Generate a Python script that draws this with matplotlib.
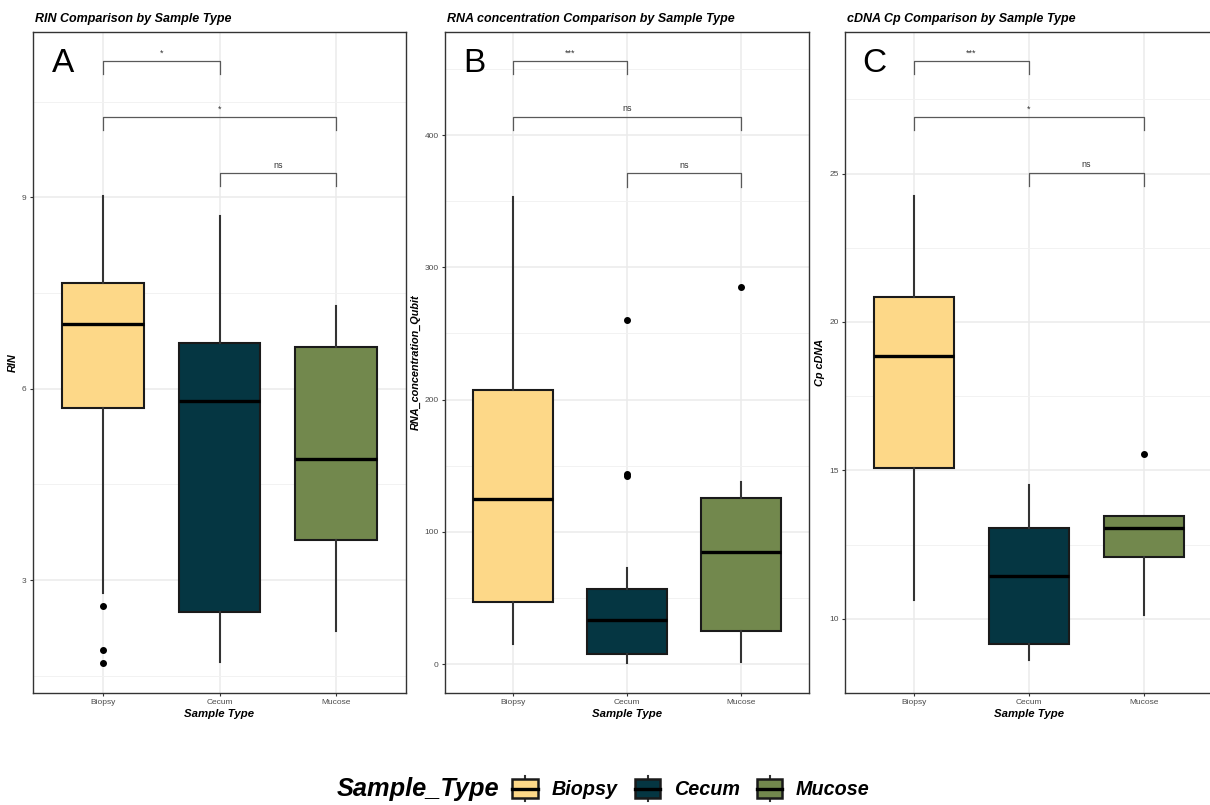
import matplotlib
matplotlib.use('Agg')
import matplotlib.pyplot as plt
from matplotlib.legend_handler import HandlerBase
from matplotlib.patches import Patch, Rectangle
from matplotlib.lines import Line2D

plt.rcParams['font.family'] = ['Liberation Sans', 'DejaVu Sans']

categories = ['Biopsy', 'Cecum', 'Mucose']
colors = ['#FDD888', '#053642', '#72884D']

# RIN
rin_q1 = [5.70, 2.50, 3.63]
rin_med = [7.01, 5.81, 4.90]
rin_q3 = [7.65, 6.71, 6.66]
rin_lo = [2.80, 1.71, 2.20]
rin_hi = [9.02, 8.71, 7.30]
rin_fliers = [[2.60, 1.90, 1.70], [], []]

# RNA concentration (Qubit)
rna_q1 = [46.6, 7.3, 25.2]
rna_med = [124.8, 33.0, 85.0]
rna_q3 = [207.0, 56.7, 125.5]
rna_lo = [14.9, 1.0, 1.7]
rna_hi = [353.0, 73.0, 137.6]
rna_fliers = [[], [260.0, 143.7, 142.5], [285.0]]

# cDNA Cp
cp_q1 = [15.07, 9.14, 12.09]
cp_med = [18.86, 11.44, 13.07]
cp_q3 = [20.84, 13.05, 13.46]
cp_lo = [10.64, 8.60, 10.13]
cp_hi = [24.26, 14.50, 13.46]
cp_fliers = [[], [], [15.54]]

# significance brackets: (group a, group b, label)
pairs = [(1, 2), (1, 3), (2, 3)]
rin_sig = ['*', '*', 'ns']
rna_sig = ['***', 'ns', 'ns']
cp_sig = ['***', '*', 'ns']
rin_bracket_y = [11.14, 10.26, 9.38]
rna_bracket_y = [456, 414, 371]
cp_bracket_y = [28.79, 26.90, 25.03]

panels = [
    dict(title='RIN Comparison by Sample Type', ylabel='RIN', letter='A',
         q1=rin_q1, med=rin_med, q3=rin_q3, lo=rin_lo, hi=rin_hi, fl=rin_fliers,
         sig=rin_sig, by=rin_bracket_y, ylim=(1.23, 11.59),
         ticks=[3, 6, 9], minor=[1.5, 4.5, 7.5, 10.5],
         pos=[33, 406]),
    dict(title='RNA concentration Comparison by Sample Type',
         ylabel='RNA_concentration_Qubit', letter='B',
         q1=rna_q1, med=rna_med, q3=rna_q3, lo=rna_lo, hi=rna_hi, fl=rna_fliers,
         sig=rna_sig, by=rna_bracket_y, ylim=(-21.9, 478),
         ticks=[0, 100, 200, 300, 400], minor=[50, 150, 250, 350, 450],
         pos=[445, 809]),
    dict(title='cDNA Cp Comparison by Sample Type', ylabel='Cp cDNA', letter='C',
         q1=cp_q1, med=cp_med, q3=cp_q3, lo=cp_lo, hi=cp_hi, fl=cp_fliers,
         sig=cp_sig, by=cp_bracket_y, ylim=(7.58, 29.77),
         ticks=[10, 15, 20, 25], minor=[7.5, 12.5, 17.5, 22.5, 27.5],
         pos=[845, 1213]),
]

W, H = 1210, 805
fig = plt.figure(figsize=(W / 100, H / 100), dpi=100)

for p in panels:
    left, right = p['pos']
    ax = fig.add_axes([left / W, (H - 693) / H, (right - left) / W, 661 / H])
    stats = []
    for i, name in enumerate(categories):
        stats.append(dict(label=name, q1=p['q1'][i], med=p['med'][i], q3=p['q3'][i],
                          whislo=p['lo'][i], whishi=p['hi'][i], fliers=p['fl'][i]))
    bp = ax.bxp(stats, positions=[1, 2, 3], widths=0.7, patch_artist=True,
                showcaps=False,
                boxprops=dict(edgecolor='#1a1a1a', linewidth=1.5),
                medianprops=dict(color='black', linewidth=2.4),
                whiskerprops=dict(color='#333333', linewidth=1.5),
                flierprops=dict(marker='o', markerfacecolor='black',
                                markeredgecolor='black', markersize=4))
    for patch, c in zip(bp['boxes'], colors):
        patch.set_facecolor(c)
    for art in bp['boxes'] + bp['medians'] + bp['whiskers'] + bp['fliers']:
        art.set_zorder(3)

    ax.set_xlim(0.4, 3.6)
    ax.set_ylim(*p['ylim'])
    ax.set_yticks(p['ticks'])
    ax.set_yticks(p['minor'], minor=True)
    ax.set_xticks([1, 2, 3])
    ax.set_xticklabels(categories)
    ax.grid(True, which='major', color='#ebebeb', linewidth=1.1, zorder=0)
    ax.grid(True, which='minor', axis='y', color='#f2f2f2', linewidth=0.7, zorder=0)
    ax.set_axisbelow(True)
    ax.tick_params(which='major', length=2.5, width=0.8, color='#333333',
                   labelsize=6, labelcolor='#4d4d4d', pad=2)
    ax.tick_params(which='minor', length=0)
    for s in ax.spines.values():
        s.set_color('#333333')
        s.set_linewidth(1.0)

    ax.set_title(p['title'], loc='left', fontsize=9, fontweight='bold',
                 fontstyle='italic', pad=7, x=0.005)
    ax.set_xlabel('Sample Type', fontsize=8.2, fontweight='bold', fontstyle='italic',
                  labelpad=2)
    ax.set_ylabel(p['ylabel'], fontsize=7.8, fontweight='bold', fontstyle='italic',
                  labelpad=3)
    ax.text(0.08, 0.953, p['letter'], transform=ax.transAxes, fontsize=24,
            ha='center', va='center')

    tip = 0.02 * (p['ylim'][1] - p['ylim'][0])
    for (a, b), lab, y in zip(pairs, p['sig'], p['by']):
        ax.plot([a, a, b, b], [y - tip, y, y, y - tip], color='#595959',
                linewidth=0.9, zorder=2)
        ax.annotate(lab, xy=((a + b) / 2, y), xytext=(0, 2.5),
                    textcoords='offset points', ha='center', va='bottom',
                    fontsize=6.5, color='#333333')


class BoxHandler(HandlerBase):
    def create_artists(self, legend, orig_handle, xdescent, ydescent,
                       width, height, fontsize, trans):
        fc = orig_handle.get_facecolor()
        x0, y0 = -xdescent, -ydescent
        cx = x0 + width / 2
        whisk = Line2D([cx, cx], [y0 - 0.15 * height, y0 + 1.15 * height],
                       color='#333333', linewidth=1.5, transform=trans)
        box = Rectangle((x0 + 0.05 * width, y0), 0.9 * width, height,
                        facecolor=fc, edgecolor='#1a1a1a',
                        linewidth=1.8, transform=trans)
        med = Line2D([x0 + 0.05 * width, x0 + 0.95 * width],
                     [y0 + 0.5 * height] * 2, color='black', linewidth=2.4,
                     transform=trans)
        return [whisk, box, med]


handles = [Patch(facecolor=c) for c in colors]
fig.text(337 / W, 1 - 789 / H, 'Sample_Type', fontsize=18.3, fontweight='bold',
         fontstyle='italic', ha='left', va='center')
fig.legend(handles, categories, handler_map={Patch: BoxHandler()},
           loc='center left', bbox_to_anchor=(511 / W, 1 - 789 / H),
           ncol=3, frameon=False, handlelength=1.45, handleheight=1.15,
           handletextpad=0.6, columnspacing=0.8, borderpad=0, borderaxespad=0,
           prop=dict(family='Liberation Sans', weight='bold', style='italic',
                     size=14.2))

fig.savefig('out.png', dpi=100)
